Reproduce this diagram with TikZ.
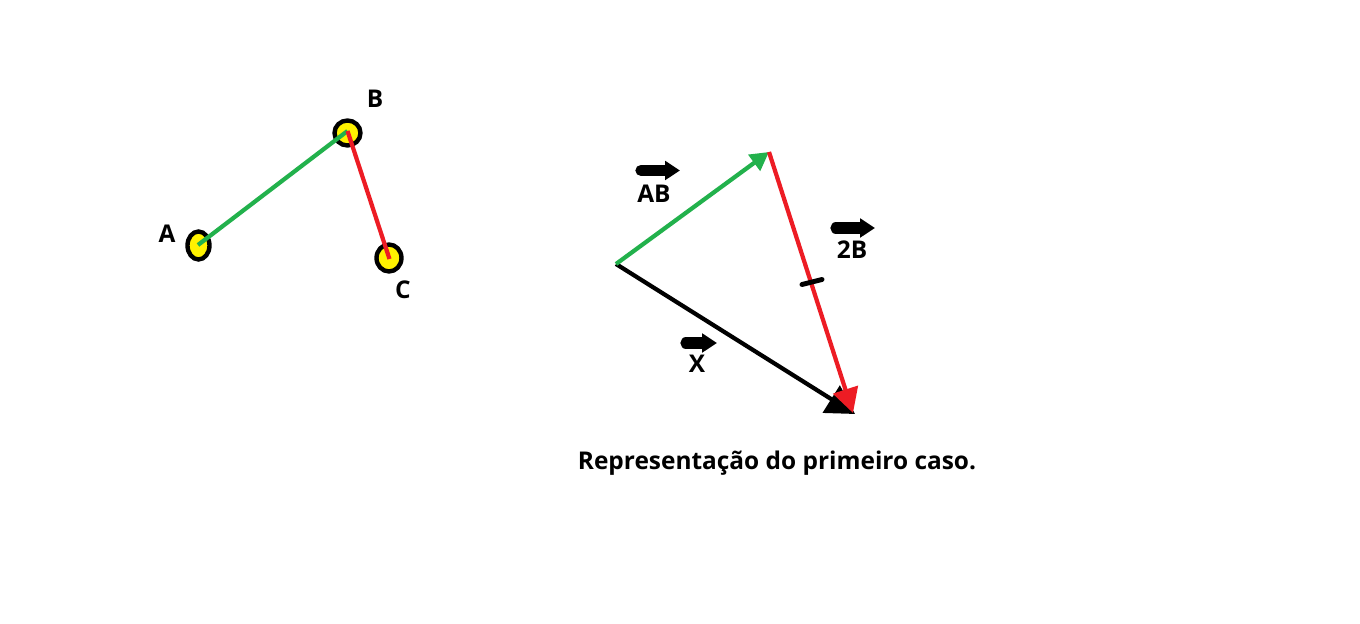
\documentclass[tikz,border=0pt]{standalone}
\usepackage{fontspec}
\setmainfont{Open Sans}
\usetikzlibrary{arrows.meta,shapes.geometric}
\definecolor{pgreen}{RGB}{34,177,76}
\definecolor{pred}{RGB}{237,28,36}
\definecolor{pyellow}{RGB}{255,242,0}
\tikzset{
  lbl/.style={font=\fontsize{13.9}{16}\selectfont\bfseries, anchor=base, inner sep=0pt},
  pt/.style={ellipse, draw=black, fill=pyellow, line width=2.5pt, inner sep=0pt},
  seg/.style={line width=2.4pt},
  vecarrow/.style={line width=6.4pt, line cap=round, -{Triangle[length=8.5pt,width=10.5pt]}},
}
\begin{document}
\begin{tikzpicture}[x=0.02cm,y=-0.02cm]
\useasboundingbox[fill=white] (0,0) rectangle (1360,624);
% left figure
\node[pt, minimum width=0.44cm, minimum height=0.56cm] (Ac) at (198.5,245.5) {};
\node[pt, minimum width=0.52cm, minimum height=0.50cm] (Bc) at (347.5,133) {};
\node[pt, minimum width=0.50cm, minimum height=0.54cm] (Cc) at (389,258) {};
\coordinate (A) at (198,245);
\coordinate (B) at (347.5,131);
\coordinate (C) at (389.5,259);
\draw[seg, pgreen] (A) -- (B);
\draw[seg, pred] (B) -- (C);
\node[lbl] (lA) at (167,243) {A};
\node[lbl] (lB) at (375,108) {B};
\node[lbl] (lC) at (403,299) {C};
% right figure
\coordinate (O) at (616,264);
\coordinate (T) at (769,152);
\coordinate (E) at (855,414);
\coordinate (E2) at (853,413);
\draw[seg, black, -{Triangle[length=16pt,width=18pt]}] (O) -- (E);
\draw[seg, pgreen, -{Triangle[length=10.5pt,width=11pt]}] (O) -- (T);
\draw[seg, pred, -{Triangle[length=14pt,width=14.5pt]}] (T) -- (E2);
\coordinate (k1) at (802,284.5);
\coordinate (k2) at (822,279.5);
\draw[line width=2.8pt, line cap=round] (k1) -- (k2);
% labels with vector arrows
\coordinate (a1) at (641,170.5);
\coordinate (a2) at (680,170.5);
\draw[vecarrow] (a1) -- (a2);
\node[lbl] (lAB) at (654,203) {AB};
\coordinate (b1) at (836,228);
\coordinate (b2) at (875,228);
\draw[vecarrow] (b1) -- (b2);
\node[lbl] (l2B) at (852,259) {2B};
\coordinate (c1) at (686,343);
\coordinate (c2) at (717,343);
\draw[vecarrow] (c1) -- (c2);
\node[lbl] (lX) at (697,373) {X};
\node[lbl] (cap) at (777,470) {Representação do primeiro caso.};
\end{tikzpicture}
\end{document}
